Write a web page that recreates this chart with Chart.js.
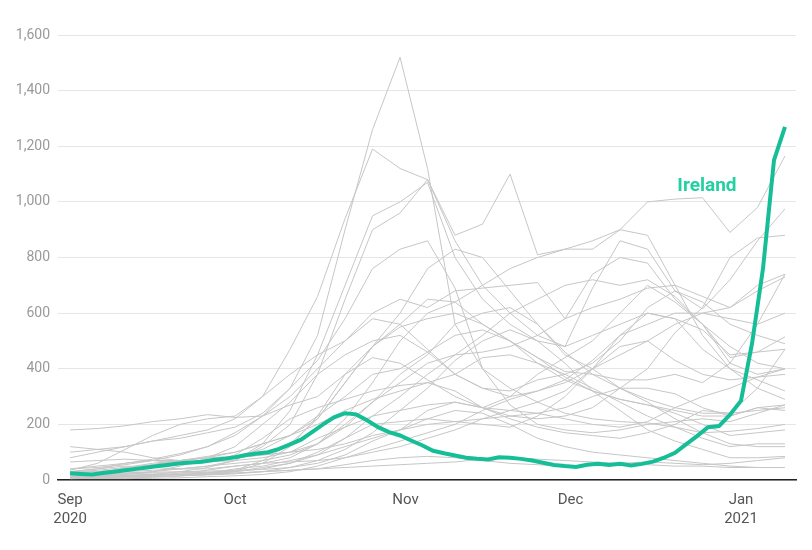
<!DOCTYPE html>
<html>
<head>
<meta charset="utf-8">
<script src="https://cdn.jsdelivr.net/npm/chart.js@4.4.0/dist/chart.umd.min.js"></script>
<style>
html,body{margin:0;padding:0;background:#fff;}
#wrap{width:812px;height:550px;position:relative;}
</style>
</head>
<body>
<div id="wrap"><canvas id="chart"></canvas></div>
<script>
// days since 1 Sep 2020
const tickDays = [0, 30, 61, 91, 122];
const tickLabels = [["Sep", "2020"], ["Oct"], ["Nov"], ["Dec"], ["Jan", "2021"]];
const yTicks = [0, 200, 400, 600, 800, 1000, 1200, 1400, 1600];

// highlighted country, every 2 days
const irelandDays = [0,2,4,6,8,10,12,14,16,18,20,22,24,26,28,30,32,34,36,38,40,42,44,46,48,50,52,54,56,58,60,62,64,66,68,70,72,74,76,78,80,82,84,86,88,90,92,94,96,98,100,102,104,106,108,110,112,114,116,118,120,122,124,126,128,130];
const ireland = [24,22,20,25,30,35,40,45,50,55,60,63,66,72,76,82,90,95,100,112,128,145,172,200,225,240,236,215,190,172,160,142,125,105,96,88,80,76,74,82,80,76,70,62,54,50,47,55,58,54,58,52,58,66,80,98,128,158,190,194,235,285,490,760,1150,1270];
const irelandLabel = "Ireland";
const irelandLabelAt = [115.8, 1057]; // day, value

// the other countries, every 5 days
const grayDays = [0,5,10,15,20,25,30,35,40,45,50,55,60,65,70,75,80,85,90,95,100,105,110,115,120,125,130];
const belgium     = [40,50,60,75,95,120,160,230,330,520,900,1260,1520,1120,560,400,330,280,240,220,210,205,190,170,175,185,200];
const czechia     = [35,60,110,160,200,220,230,300,470,660,940,1190,1120,1080,860,700,600,520,480,690,860,830,680,615,720,860,975];
const slovenia    = [10,12,15,20,30,45,70,120,200,380,650,900,960,1080,880,920,1100,810,830,830,900,1000,1010,1015,890,980,1165];
const switzerland = [20,25,30,35,40,50,70,130,250,450,700,950,1000,1070,800,650,560,500,480,520,560,600,580,540,450,460,515];
const france      = [80,100,120,140,150,170,190,240,330,430,580,760,830,860,690,400,270,200,180,170,180,200,210,220,210,240,270];
const austria     = [30,35,45,55,70,85,100,130,160,220,350,480,600,760,830,800,680,560,460,380,330,290,260,240,240,250,260];
const netherlands = [40,45,55,70,90,120,170,230,300,400,500,580,560,470,380,330,320,360,380,420,500,620,680,640,560,520,490];
const luxembourg  = [100,110,120,140,160,180,220,300,380,450,500,600,650,620,680,690,700,710,580,740,800,780,650,560,420,380,400];
const slovakia    = [10,15,20,30,50,80,120,200,280,380,450,500,520,460,380,330,300,320,360,430,520,560,600,600,580,560,600];
const lithuania   = [5,8,10,12,15,20,30,45,60,90,150,230,300,380,450,520,600,650,700,720,700,720,660,560,480,420,400];
const croatia     = [30,40,50,45,40,40,50,60,80,130,220,350,500,600,640,700,760,800,830,860,900,880,700,520,400,330,290];
const sweden      = [20,20,25,30,40,50,60,70,90,130,200,280,350,420,450,460,480,520,580,620,650,690,700,660,620,700,740];
const denmark     = [30,40,60,70,60,70,80,90,100,110,130,160,180,200,210,200,190,230,300,400,520,600,580,470,400,360,320];
const portugal    = [30,30,40,55,70,80,85,110,160,230,300,380,400,460,520,540,500,440,390,380,360,360,380,350,420,560,740];
const spain       = [180,185,195,210,220,235,225,230,270,300,380,440,420,360,300,260,220,190,170,160,150,170,200,250,240,330,470];
const italy       = [15,18,22,25,25,28,32,60,120,230,380,480,550,580,600,560,500,420,360,320,290,270,250,230,230,260,270];
const germany     = [15,15,18,20,20,25,30,40,60,100,150,200,210,220,210,220,230,240,260,300,330,330,310,260,230,260,250];
const poland      = [12,13,15,18,20,25,35,70,130,220,350,480,560,650,640,560,500,440,370,320,290,270,240,200,160,170,180];
const hungary     = [10,20,45,60,70,80,80,90,100,130,190,280,380,450,560,600,620,560,450,400,330,280,220,170,130,120,120];
const bulgaria    = [12,12,13,14,15,18,22,30,45,70,110,170,250,330,430,500,540,500,420,320,250,180,140,110,80,80,85];
const romania     = [65,70,75,70,70,80,100,130,160,200,250,290,320,350,380,440,450,420,380,330,280,230,190,150,120,130,130];
const greece      = [20,22,25,28,30,32,35,38,45,60,90,140,180,220,250,240,200,150,120,100,90,80,70,60,50,45,45];
const finland     = [5,6,7,10,15,20,25,30,35,40,45,50,55,60,65,75,80,75,70,65,60,55,50,50,45,45,45];
const latvia      = [5,5,5,6,8,12,15,20,30,50,80,110,140,170,200,250,290,320,350,400,450,500,560,600,620,680,730];
const estonia     = [10,10,12,15,25,35,50,60,65,70,80,100,120,150,180,220,250,280,320,400,480,500,430,380,360,370,380];
const cyprus      = [10,12,15,18,20,25,40,50,70,90,120,150,180,250,280,260,300,380,440,500,600,700,640,560,440,460,470];
const malta       = [120,110,100,80,70,65,70,80,100,150,190,230,250,270,280,260,250,240,220,200,190,210,260,300,330,370,400];
const uk          = [25,30,40,45,55,65,90,150,220,260,290,320,340,350,320,260,230,220,230,260,330,400,530,620,800,870,880];
const norway      = [10,12,15,18,20,22,25,30,35,40,55,70,80,85,80,70,60,55,50,55,60,65,60,55,60,70,80];

const others = [belgium, czechia, slovenia, switzerland, france, austria, netherlands, luxembourg,
  slovakia, lithuania, croatia, sweden, denmark, portugal, spain, italy, germany, poland, hungary,
  bulgaria, romania, greece, finland, latvia, estonia, cyprus, malta, uk, norway];

const teal = '#16be97';
const grey = '#c6c6c6';

const datasets = [{
  label: irelandLabel,
  data: ireland.map((v, i) => ({x: irelandDays[i], y: v})),
  borderColor: teal,
  borderWidth: 4,
  pointRadius: 0,
  tension: 0,
  order: 0
}];
others.forEach(vals => {
  datasets.push({
    data: vals.map((v, i) => ({x: grayDays[i], y: v})),
    borderColor: grey,
    borderWidth: 1,
    pointRadius: 0,
    tension: 0,
    order: 1
  });
});

// label next to the highlighted line
const labelPlugin = {
  id: 'irelandLabel',
  afterDatasetsDraw(chart){
    const {ctx, scales: {x, y}} = chart;
    const px = x.getPixelForValue(irelandLabelAt[0]);
    const py = y.getPixelForValue(irelandLabelAt[1]);
    ctx.save();
    ctx.font = 'bold 19px Roboto';
    ctx.textAlign = 'center';
    ctx.textBaseline = 'middle';
    ctx.lineJoin = 'round';
    ctx.lineWidth = 5;
    ctx.strokeStyle = '#fff';
    ctx.strokeText(irelandLabel, px, py);
    ctx.fillStyle = '#22d0a2';
    ctx.fillText(irelandLabel, px, py);
    ctx.restore();
  }
};

new Chart(document.getElementById('chart'), {
  type: 'line',
  data: {datasets},
  plugins: [labelPlugin],
  options: {
    responsive: true,
    maintainAspectRatio: false,
    animation: false,
    devicePixelRatio: 1,
    layout: {padding: {top: 35, right: 16, left: 0, bottom: 0}},
    plugins: {legend: {display: false}, tooltip: {enabled: false}},
    scales: {
      x: {
        type: 'linear',
        min: -2.2,
        max: 132,
        grid: {display: false},
        border: {display: true, color: '#222', width: 1.5},
        afterBuildTicks: s => { s.ticks = tickDays.map(v => ({value: v})); },
        afterFit: s => { s.height = 70; },
        ticks: {
          autoSkip: false,
          maxRotation: 0,
          padding: 2,
          color: '#555',
          font: {family: 'Roboto', size: 15, lineHeight: 1.3},
          callback: (v, i) => tickLabels[i]
        }
      },
      y: {
        min: 0,
        max: 1600,
        grid: {color: '#e6e6e6', lineWidth: 1, drawTicks: false},
        border: {display: false},
        afterBuildTicks: s => { s.ticks = yTicks.map(v => ({value: v})); },
        afterFit: s => { s.width = 58; },
        ticks: {
          padding: 8,
          color: '#9a9a9a',
          font: {family: 'Roboto', size: 14},
          callback: v => v.toLocaleString('en-US')
        }
      }
    }
  }
});
</script>
</body>
</html>
